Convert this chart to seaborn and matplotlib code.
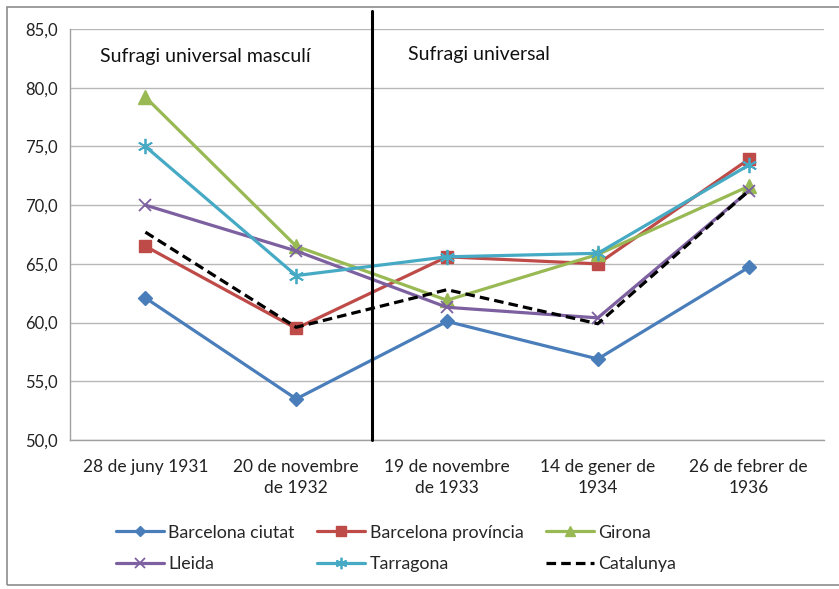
import numpy as np
import pandas as pd
import matplotlib
matplotlib.use("Agg")
import matplotlib.pyplot as plt
from matplotlib.patches import Rectangle
from matplotlib.ticker import FuncFormatter, FixedLocator
import seaborn as sns

# data
dates = ["28 de juny 1931", "20 de novembre\nde 1932", "19 de novembre\nde 1933",
         "14 de gener de\n1934", "26 de febrer de\n1936"]
barcelona_ciutat = [62.1, 53.5, 60.1, 56.9, 64.7]
barcelona_provincia = [66.5, 59.5, 65.6, 65.0, 73.9]
girona = [79.2, 66.5, 61.9, 65.8, 71.6]
lleida = [70.0, 66.1, 61.3, 60.4, 71.2]
tarragona = [75.0, 64.0, 65.6, 65.9, 73.4]
catalunya = [67.7, 59.6, 62.8, 59.9, 71.2]

series = {
    "Barcelona ciutat": barcelona_ciutat,
    "Barcelona província": barcelona_provincia,
    "Girona": girona,
    "Lleida": lleida,
    "Tarragona": tarragona,
    "Catalunya": catalunya,
}
styles = {
    "Barcelona ciutat": dict(color="#4A7EBB", marker="D", ms=7),
    "Barcelona província": dict(color="#BE4B48", marker="s", ms=9),
    "Girona": dict(color="#98B954", marker="^", ms=10),
    "Lleida": dict(color="#7D60A0", marker="x", ms=9, mew=1.3),
    "Tarragona": dict(color="#46AAC5", marker=(6, 2, 0), ms=11, mew=1.3),
    "Catalunya": dict(color="black", marker=None, ms=0, ls=(0, (3, 1.6))),
}

rows = []
for name, vals in series.items():
    for i, v in enumerate(vals):
        rows.append({"serie": name, "x": i, "valor": v})
df = pd.DataFrame(rows)

sns.set_style("white")
plt.rcParams["font.family"] = ["Lato", "DejaVu Sans"]

fig = plt.figure(figsize=(8.39, 5.89), dpi=100)
ax = fig.add_axes([70 / 839, 1 - 440 / 589, 754 / 839, 411 / 589])

for name in series:
    st = styles[name]
    sns.lineplot(data=df[df.serie == name], x="x", y="valor", ax=ax,
                 color=st["color"], marker=st["marker"], markersize=st["ms"],
                 markeredgewidth=st.get("mew", 1), markeredgecolor=st["color"],
                 linestyle=st.get("ls", "-"), linewidth=2.3, label=name,
                 errorbar=None)

ax.set_xlim(-0.5, 4.5)
ax.set_ylim(50, 85)
ax.set_yticks(np.arange(50, 86, 5))
ax.yaxis.set_major_formatter(FuncFormatter(lambda v, p: f"{v:.1f}".replace(".", ",")))
ax.xaxis.set_major_locator(FixedLocator(np.arange(-0.5, 5, 1)))
ax.xaxis.set_minor_locator(FixedLocator(np.arange(0, 5, 1)))
ax.set_xticklabels([])
ax.set_xticklabels(dates, minor=True, linespacing=1.35)
ax.tick_params(axis="x", which="major", length=5, color="#A0A0A0", direction="out")
ax.tick_params(axis="x", which="minor", length=0, pad=14, labelsize=12.5, labelcolor="#222222")
ax.tick_params(axis="y", length=5, color="#A0A0A0", direction="out", labelsize=12,
               labelcolor="#222222", pad=4)
ax.grid(axis="y", color="#B8B8B8", linewidth=1)
ax.set_axisbelow(True)
for s in ["top", "right"]:
    ax.spines[s].set_visible(False)
for s in ["left", "bottom"]:
    ax.spines[s].set_color("#A0A0A0")
    ax.spines[s].set_linewidth(1)
ax.set_xlabel("")
ax.set_ylabel("")

# separating line between the two periods
ax.plot([1.5, 1.5], [50, 86.5], color="black", linewidth=2.2, clip_on=False, zorder=5)
ax.text(-0.3, 82.7, "Sufragi universal masculí", fontsize=14, va="center", color="#111111")
ax.text(1.74, 82.8, "Sufragi universal", fontsize=14, va="center", color="#111111")

handles, labels = ax.get_legend_handles_labels()
order = [0, 3, 1, 4, 2, 5]
ax.legend([handles[i] for i in order], [labels[i] for i in order], ncol=3,
          loc="upper left", bbox_to_anchor=(30 / 754, -0.167), frameon=False,
          fontsize=12.8, handlelength=2.7, handletextpad=0.25, columnspacing=1.25,
          labelspacing=0.85, markerscale=0.75)

fig.patches.append(Rectangle((7 / 839, 4 / 589), 840 / 839, 578 / 589,
                             transform=fig.transFigure, fill=False,
                             edgecolor="#8C8C8C", linewidth=1.2))

fig.savefig("out.png", dpi=100)
